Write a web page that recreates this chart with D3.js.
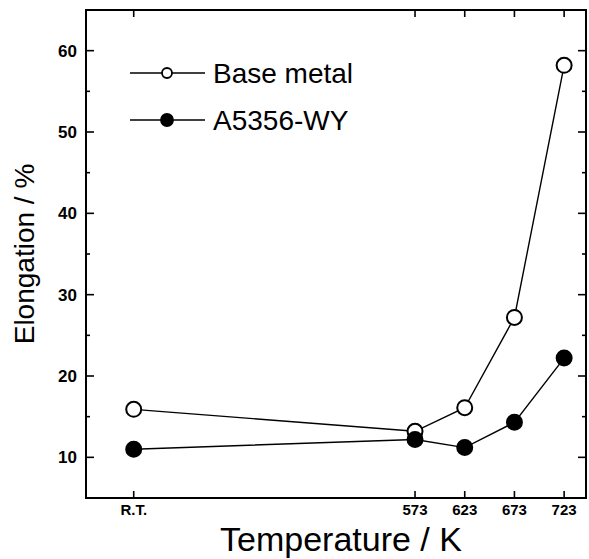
<!DOCTYPE html>
<html>
<head>
<meta charset="utf-8">
<script src="https://cdn.jsdelivr.net/npm/d3@7"></script>
<style>
  body { margin: 0; background: #fff; }
  text { font-family: "Liberation Sans", Arial, sans-serif; fill: #000; }
</style>
</head>
<body>
<svg id="chart" width="589" height="559"></svg>
<script>
// temperatures (K); room temperature is plotted at 290 and labelled "R.T."
const temps = [290, 573, 623, 673, 723];
const tickTemps = [290, 573, 623, 673, 723];
const tickNames = ["R.T.", "573", "623", "673", "723"];
const baseMetal = [15.9, 13.2, 16.1, 27.2, 58.2];
const a5356 = [11.0, 12.2, 11.2, 14.3, 22.2];
const yMajor = [10, 20, 30, 40, 50, 60];
const yMinor = [15, 25, 35, 45, 55];

const svg = d3.select("#chart");
const plotLeft = 86, plotRight = 586, plotTop = 10, plotBottom = 498;

const x = d3.scaleLinear().domain([242, 745]).range([plotLeft, plotRight]);
const y = d3.scaleLinear().domain([5, 65]).range([plotBottom, plotTop]);

// frame
svg.append("rect")
  .attr("x", plotLeft).attr("y", plotTop)
  .attr("width", plotRight - plotLeft).attr("height", plotBottom - plotTop)
  .attr("fill", "none").attr("stroke", "#000").attr("stroke-width", 2);

// inward ticks on all four sides
let ticks = svg.append("g").attr("stroke", "#000").attr("stroke-width", 1.6);
yMajor.forEach(function (v) {
  ticks.append("line").attr("x1", plotLeft).attr("x2", plotLeft + 8).attr("y1", y(v)).attr("y2", y(v));
  ticks.append("line").attr("x1", plotRight).attr("x2", plotRight - 8).attr("y1", y(v)).attr("y2", y(v));
});
yMinor.forEach(function (v) {
  ticks.append("line").attr("x1", plotLeft).attr("x2", plotLeft + 4).attr("y1", y(v)).attr("y2", y(v));
  ticks.append("line").attr("x1", plotRight).attr("x2", plotRight - 4).attr("y1", y(v)).attr("y2", y(v));
});
tickTemps.forEach(function (t) {
  ticks.append("line").attr("x1", x(t)).attr("x2", x(t)).attr("y1", plotBottom).attr("y2", plotBottom - 7);
  ticks.append("line").attr("x1", x(t)).attr("x2", x(t)).attr("y1", plotTop).attr("y2", plotTop + 7);
});

// tick labels
svg.append("g").selectAll("text")
  .data(yMajor)
  .join("text")
  .attr("x", 77)
  .attr("y", d => y(d))
  .attr("dy", "0.36em")
  .attr("text-anchor", "end")
  .attr("font-size", 17)
  .attr("font-weight", "bold")
  .text(d => d);

svg.append("g").selectAll("text")
  .data(tickTemps)
  .join("text")
  .attr("x", d => x(d))
  .attr("y", 515)
  .attr("text-anchor", "middle")
  .attr("font-size", 15)
  .attr("font-weight", "bold")
  .text((d, i) => tickNames[i]);

// axis titles
svg.append("text")
  .attr("transform", "translate(34," + 254 + ")rotate(-90)")
  .attr("text-anchor", "middle")
  .attr("font-size", 28)
  .text("Elongation / %");

svg.append("text")
  .attr("x", 341)
  .attr("y", 551)
  .attr("text-anchor", "middle")
  .attr("font-size", 34)
  .text("Temperature / K");

// series
const series = [
  {name: "Base metal", values: baseMetal, fill: "#fff"},
  {name: "A5356-WY", values: a5356, fill: "#000"}
];

const line = d3.line()
  .x((d, i) => x(temps[i]))
  .y(d => y(d));

series.forEach(function (s) {
  svg.append("path")
    .datum(s.values)
    .attr("d", line)
    .attr("fill", "none")
    .attr("stroke", "#000")
    .attr("stroke-width", 1.4);
});
series.forEach(function (s) {
  svg.append("g").selectAll("circle")
    .data(s.values)
    .join("circle")
    .attr("cx", (d, i) => x(temps[i]))
    .attr("cy", d => y(d))
    .attr("r", 7.5)
    .attr("fill", s.fill)
    .attr("stroke", "#000")
    .attr("stroke-width", 2);
});

// legend
let legend = svg.append("g");
series.forEach(function (s, i) {
  let ly = 73 + i * 47;
  legend.append("line")
    .attr("x1", 130).attr("x2", 205).attr("y1", ly).attr("y2", ly)
    .attr("stroke", "#000").attr("stroke-width", 1.4);
  legend.append("circle")
    .attr("cx", 167).attr("cy", ly).attr("r", i === 0 ? 5 : 6)
    .attr("fill", s.fill).attr("stroke", "#000").attr("stroke-width", 1.8);
  legend.append("text")
    .attr("x", 213).attr("y", ly)
    .attr("dy", "0.36em")
    .attr("font-size", 28)
    .text(s.name);
});
</script>
</body>
</html>
